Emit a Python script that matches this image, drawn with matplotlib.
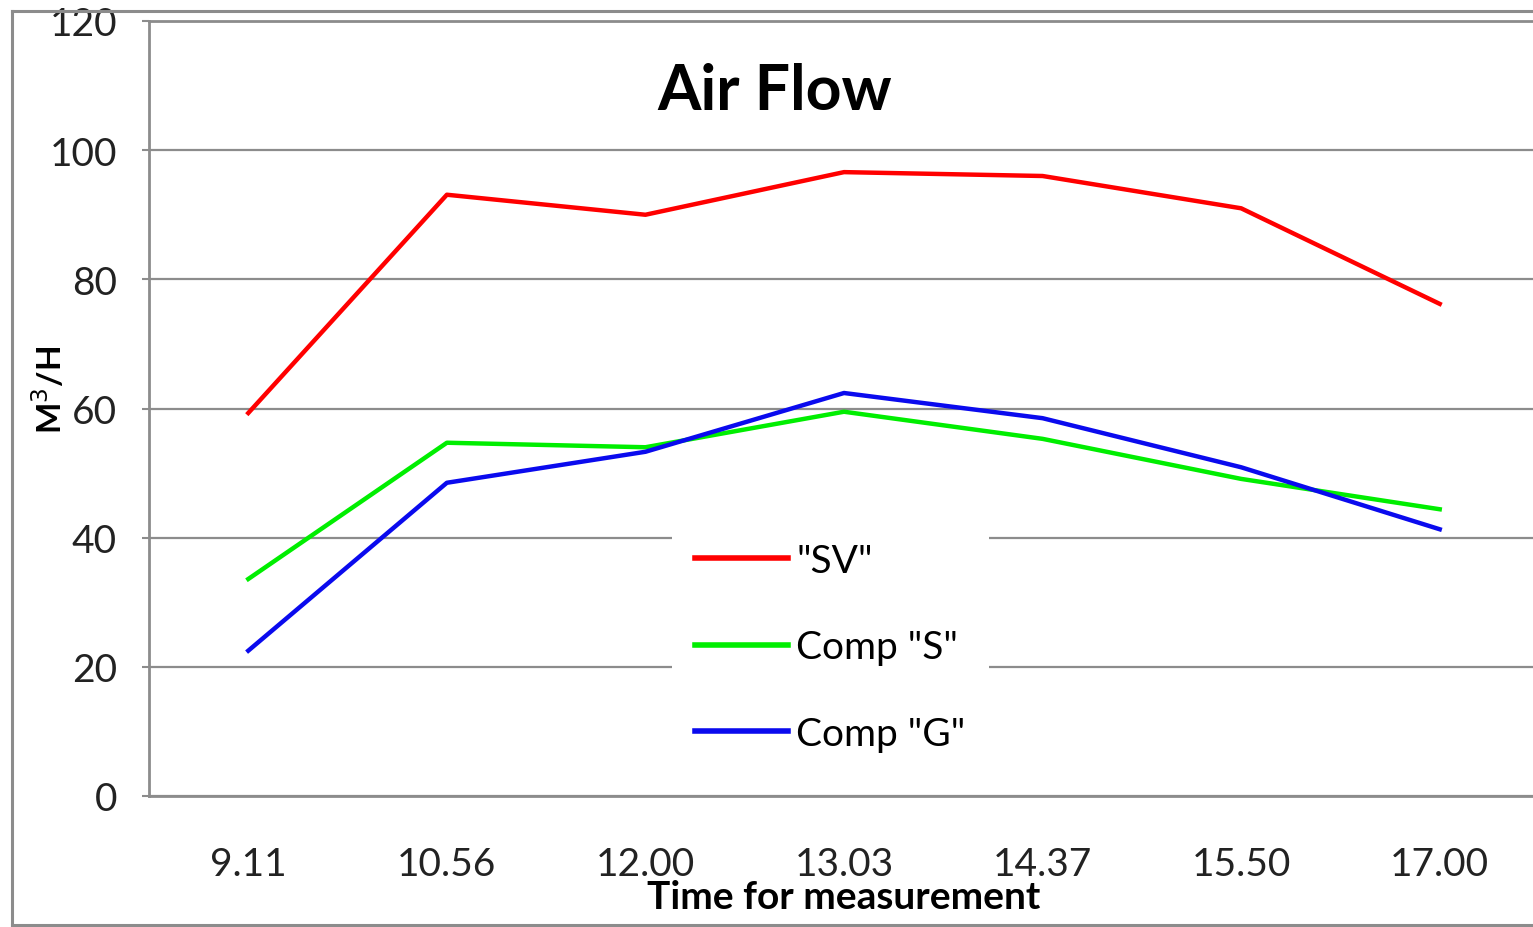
import matplotlib
matplotlib.use("Agg")
import matplotlib.pyplot as plt
from matplotlib.lines import Line2D

plt.rcParams['font.family'] = ['Lato', 'DejaVu Sans']

# Air flow readings over the day
times = ["9.11", "10.56", "12.00", "13.03", "14.37", "15.50", "17.00"]
sv = [59.3, 93.1, 90.0, 96.6, 96.0, 91.0, 76.2]
comp_s = [33.6, 54.7, 54.0, 59.5, 55.3, 49.1, 44.4]
comp_g = [22.5, 48.5, 53.3, 62.4, 58.5, 50.9, 41.3]
yticks = [0, 20, 40, 60, 80, 100, 120]

fig = plt.figure(figsize=(15.33, 9.28), dpi=100)
ax = fig.add_axes([149 / 1533, 131 / 928, 1390 / 1533, 775 / 928])

x = range(len(times))
ax.plot(x, sv, color='#ff0000', lw=3.2, label='"SV"')
ax.plot(x, comp_s, color='#00ee00', lw=3.2, label='Comp "S"')
ax.plot(x, comp_g, color='#0a0aee', lw=3.2, label='Comp "G"')

ax.set_xlim(-0.5, len(times) - 0.5)
ax.set_ylim(0, 120)
ax.set_yticks(yticks)
ax.set_xticks(list(x))
ax.set_xticklabels(times)
ax.yaxis.grid(True, color='#8c8c8c', lw=1.6)
ax.set_axisbelow(True)

for side in ['left', 'top', 'bottom']:
    ax.spines[side].set_color('#8c8c8c')
    ax.spines[side].set_linewidth(2)
ax.spines['right'].set_visible(False)

ax.tick_params(axis='y', length=5, width=1.5, color='#8c8c8c', pad=18, labelsize=28, labelcolor='#222222')
ax.tick_params(axis='x', length=0, pad=36, labelsize=28, labelcolor='#222222')

ax.set_ylabel('M$^3$/H', fontsize=24, fontweight='bold')
ax.yaxis.set_label_coords(-0.059, 0.525)
ax.set_xlabel('Time for measurement', fontsize=28, fontweight='bold')
ax.xaxis.set_label_coords(0.5, -0.107)

ax.text(0.45, 0.91, 'Air Flow', transform=ax.transAxes, fontsize=45,
        fontweight='bold', ha='center', va='center')

leg = ax.legend(loc='lower left', bbox_to_anchor=(0.362, 0.002), fontsize=28,
                frameon=True, fancybox=False, edgecolor='none', facecolor='white',
                framealpha=1, handlelength=2.4, handletextpad=0.2,
                labelspacing=1.3, borderpad=0.6)
for line in leg.get_lines():
    line.set_linewidth(4)

# outer chart border
for xs, ys in [([12, 12], [12, 926]), ([12, 1533], [12, 12]), ([12, 1533], [926, 926])]:
    fig.add_artist(Line2D([v / 1533 for v in xs], [1 - v / 928 for v in ys],
                          color='#8c8c8c', lw=2.2))

fig.savefig('out.png', dpi=100)
